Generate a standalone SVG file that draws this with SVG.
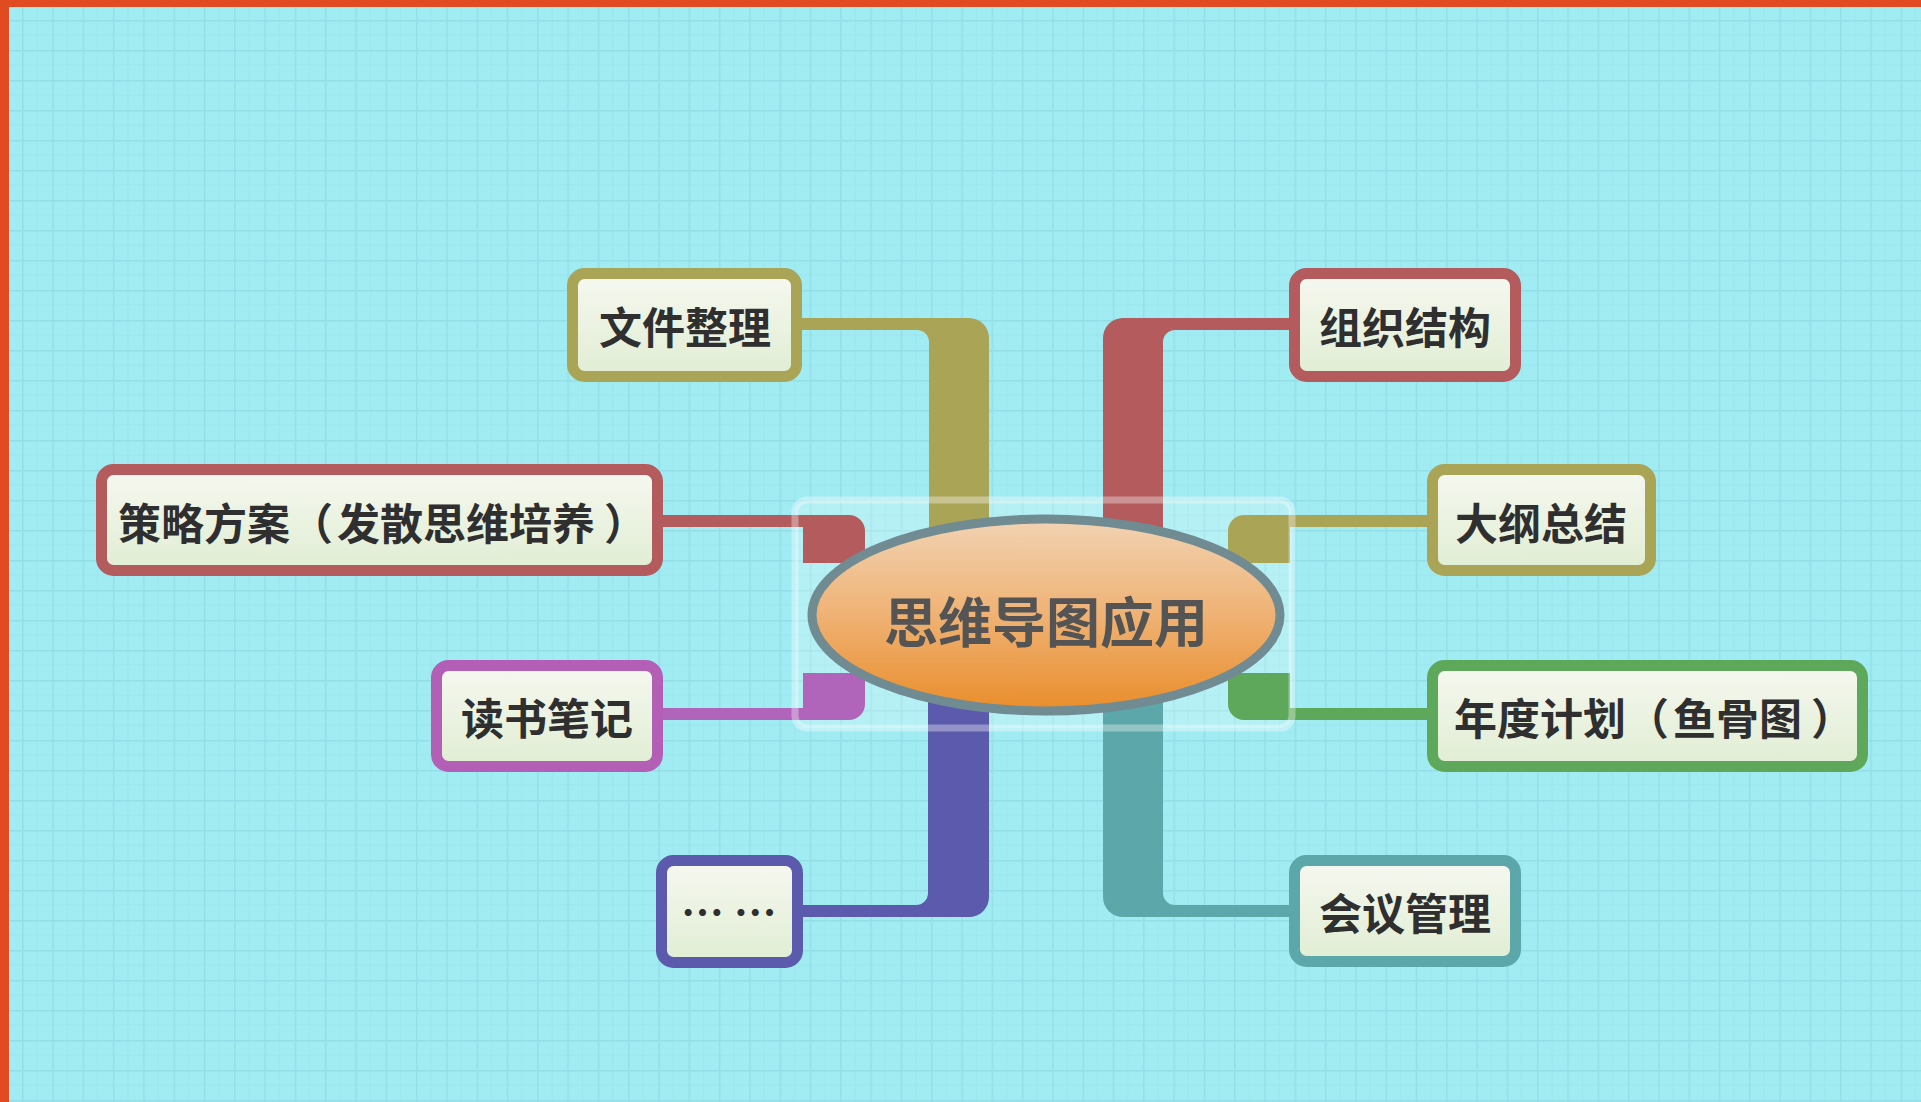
<svg xmlns="http://www.w3.org/2000/svg" width="1921" height="1102" viewBox="0 0 1921 1102">
  <defs>
    <pattern id="grid" x="22" y="20" width="30.3" height="30" patternUnits="userSpaceOnUse">
      <rect width="30.3" height="30" fill="#a1ecf3"/>
      <line x1="15" y1="0" x2="15" y2="30" stroke="#9be6ed" stroke-width="1"/>
      <line x1="0" y1="15" x2="30.3" y2="15" stroke="#9be6ed" stroke-width="1"/>
      <line x1="0.5" y1="0" x2="0.5" y2="30" stroke="#94dfe7" stroke-width="2"/>
      <line x1="0" y1="0.5" x2="30.3" y2="0.5" stroke="#94dfe7" stroke-width="2"/>
    </pattern>
    <linearGradient id="boxFill" x1="0" y1="0" x2="0" y2="1">
      <stop offset="0" stop-color="#f6f8f0"/>
      <stop offset="1" stop-color="#e0edd3"/>
    </linearGradient>
    <linearGradient id="centerFill" x1="0" y1="0" x2="0" y2="1">
      <stop offset="0" stop-color="#f1d3b3"/>
      <stop offset="0.5" stop-color="#efb274"/>
      <stop offset="1" stop-color="#e98d2a"/>
    </linearGradient>
    <style>
      .box { fill: url(#boxFill); stroke-width: 11; }
      .label { font-family: "Noto Sans CJK SC", "Noto Sans", sans-serif; font-weight: bold; font-size: 43px; fill: #2f2f2f; text-anchor: middle; dominant-baseline: central; }
      .start { text-anchor: start; }
      .olive { stroke: #aaa556; }
      .red { stroke: #b35b5d; }
      .purple { stroke: #b25fb5; }
      .indigo { stroke: #5b5aad; }
      .green { stroke: #5ea85b; }
      .teal { stroke: #5ca7aa; }
    </style>
  </defs>

  <!-- background -->
  <rect x="0" y="0" width="1921" height="1102" fill="url(#grid)"/>
  <rect x="0" y="0" width="1921" height="7" fill="#e04b22"/>
  <rect x="0" y="0" width="9" height="1102" fill="#e04b22"/>

  <!-- translucent panel behind the central topic -->
  <rect id="center-panel" x="795" y="500" width="497" height="228" rx="12" fill="#ffffff" fill-opacity="0.22"/>

  <!-- connectors -->
  <g id="connectors">
    <path d="M 800 318 H 969 A 20 20 0 0 1 989 338 V 600 H 929 V 342 A 12 12 0 0 0 917 330 H 800 Z" fill="#aaa556"/>
    <path d="M 1292 318 H 1123 A 20 20 0 0 0 1103 338 V 600 H 1163 V 342 A 12 12 0 0 1 1175 330 H 1292 Z" fill="#b35b5d"/>
    <path d="M 660 515 H 849 A 16 16 0 0 1 865 531 V 563 H 803 V 527 H 660 Z" fill="#b35b5d"/>
    <path d="M 660 708 H 803 V 673 H 865 V 704 A 16 16 0 0 1 849 720 H 660 Z" fill="#b065ba"/>
    <path d="M 928 650 H 989 V 897 A 20 20 0 0 1 969 917 H 800 V 905 H 916 A 12 12 0 0 0 928 893 Z" fill="#5b5aad"/>
    <path d="M 1430 515 H 1244 A 16 16 0 0 0 1228 531 V 563 H 1290 V 527 H 1430 Z" fill="#aaa556"/>
    <path d="M 1430 708 H 1290 V 673 H 1228 V 704 A 16 16 0 0 0 1244 720 H 1430 Z" fill="#5ea85b"/>
    <path d="M 1163 650 H 1103 V 897 A 20 20 0 0 0 1123 917 H 1292 V 905 H 1175 A 12 12 0 0 1 1163 893 Z" fill="#5ca7aa"/>
  </g>

  <!-- panel edge drawn over the branch roots -->
  <rect x="795" y="500" width="497" height="228" rx="12" fill="none" stroke="#ffffff" stroke-opacity="0.35" stroke-width="7"/>

  <!-- central topic -->
  <g id="center">
    <ellipse cx="1046" cy="615" rx="234" ry="96" fill="url(#centerFill)" stroke="#718b92" stroke-width="9"/>
    <text x="1046" y="619" font-family="Noto Sans CJK SC, Noto Sans, sans-serif" font-weight="bold" font-size="54" fill="#545454" text-anchor="middle" dominant-baseline="central">思维导图应用</text>
  </g>

  <g id="node-wenjian">
    <rect class="box olive" x="572.5" y="273.5" width="224" height="103" rx="12"/>
    <text class="label" x="685" y="325">文件整理</text>
  </g>
  <g id="node-zuzhi">
    <rect class="box red" x="1294.5" y="273.5" width="221" height="103" rx="12"/>
    <text class="label" x="1405" y="325">组织结构</text>
  </g>
  <g id="node-celue">
    <rect class="box red" x="101.5" y="469.5" width="556" height="101" rx="12"/>
    <text class="label start" x="118" y="521">策略方案（<tspan dx="4">发散思维培养</tspan><tspan dx="9">）</tspan></text>
  </g>
  <g id="node-dushu">
    <rect class="box purple" x="436.5" y="665.5" width="221" height="101" rx="12"/>
    <text class="label" x="547" y="716">读书笔记</text>
  </g>
  <g id="node-more">
    <rect class="box indigo" x="661.5" y="860.5" width="136" height="102" rx="12"/>
    <text class="label" x="729" y="910" font-size="34">… …</text>
  </g>
  <g id="node-dagang">
    <rect class="box olive" x="1432.5" y="469.5" width="218" height="101" rx="12"/>
    <text class="label" x="1541" y="521">大纲总结</text>
  </g>
  <g id="node-niandu">
    <rect class="box green" x="1432.5" y="665.5" width="430" height="101" rx="12"/>
    <text class="label start" x="1454" y="716">年度计划（<tspan dx="4">鱼骨图</tspan><tspan dx="9">）</tspan></text>
  </g>
  <g id="node-huiyi">
    <rect class="box teal" x="1294.5" y="860.5" width="221" height="101" rx="12"/>
    <text class="label" x="1405" y="911">会议管理</text>
  </g>
</svg>
